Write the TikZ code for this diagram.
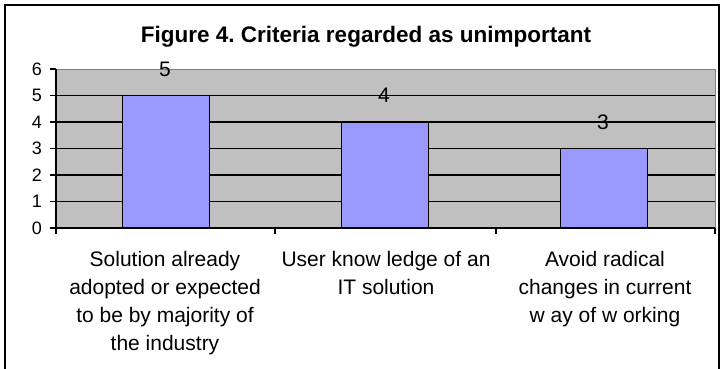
\documentclass[tikz,border=0pt]{standalone}
\usepackage{fontspec}
\setmainfont{Liberation Sans}
\definecolor{barblue}{HTML}{9999FF}
\definecolor{plotgrey}{HTML}{C0C0C0}
\begin{document}
\frenchspacing
\begin{tikzpicture}[x=1pt, y=-1pt, every node/.style={inner sep=0pt}]
\tikzstyle{bar}=[fill=barblue, draw=black, line width=1.2pt]
\tikzstyle{grid}=[draw=black, line width=1.2pt]
\tikzstyle{num}=[font=\fontsize{18}{18}\selectfont]
\tikzstyle{val}=[font=\fontsize{21}{21}\selectfont]
\tikzstyle{cat}=[font=\fontsize{21}{28}\selectfont, align=center, anchor=north]
\useasboundingbox (0,0) rectangle (723,368);
% chart frame, open at the bottom
\draw [black, line width=1.8pt] (5,375) -- (5,5) -- (719,5) -- (719,375);
\node [font=\fontsize{22.5}{22.5}\selectfont\bfseries, anchor=base] (title) at (366,42) {Figure 4. Criteria regarded as unimportant};
% plot area
\fill [plotgrey] (56,69) rectangle (715,228);
\draw [gray, line width=0.8pt] (56,69) -- (715,69) -- (715,228);
\foreach \v in {1,...,5}
  \draw [grid] (56,228-26.5*\v) -- (715,228-26.5*\v);
% bars
\draw [bar] (122.5,228) rectangle (209.5,95.5);
\draw [bar] (341.5,228) rectangle (428.5,122);
\draw [bar] (560.5,228) rectangle (647.5,148.5);
% value labels
\node [val] (v1) at (165,69) {5};
\node [val] (v2) at (384,95.5) {4};
\node [val] (v3) at (603,122) {3};
% axes
\draw [grid] (56,69) -- (56,228) -- (715,228);
\foreach \v in {0,...,6} {
  \draw [grid] (50,228-26.5*\v) -- (56,228-26.5*\v);
  \node [num, anchor=east] (y\v) at (42,228-26.5*\v) {\v};
}
\foreach \x in {56,275,496,715}
  \draw [grid] (\x,228) -- (\x,234);
% category labels
\node [cat] (c1) at (165,251) {Solution already\\adopted or expected\\to be by majority of\\the industry};
\node [cat] (c2) at (386,251) {User know ledge of an\\IT solution};
\node [cat] (c3) at (605,251) {Avoid radical\\changes in current\\w ay of w orking};
\end{tikzpicture}
\end{document}
